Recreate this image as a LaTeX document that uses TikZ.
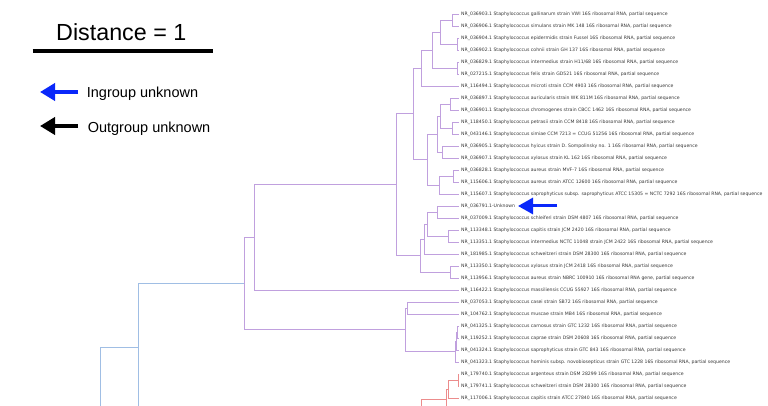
\documentclass[tikz,border=0pt]{standalone}
\usepackage{fontspec}
\setmainfont{Liberation Sans}
\newfontfamily\leaffont{DejaVu Sans}
\usetikzlibrary{arrows.meta}
\definecolor{purp}{RGB}{192,160,222}
\definecolor{bluet}{RGB}{160,190,228}
\definecolor{redt}{RGB}{236,140,140}
\definecolor{arrblue}{RGB}{10,40,250}
\definecolor{txt}{RGB}{55,55,55}
\newcommand\clade[4][purp]{\draw[br,draw=#1] (#3) -- (#2 |- #3) -- (#2 |- #4) -- (#4);}
\begin{document}
\begin{tikzpicture}[x=1pt,y=-1pt,
  leaf/.style={anchor=west, inner xsep=2pt, inner ysep=0pt, text height=3.36pt, text depth=0pt,
    font=\leaffont\fontsize{4.6}{5.4}\selectfont, text=txt},
  br/.style={line width=0.9pt},
  legtext/.style={anchor=base west, inner sep=0pt, font=\fontsize{14.5}{16}\selectfont},
  bigarrow/.style={-{Triangle[length=15pt,width=17pt]}, line width=4pt},
  smallarrow/.style={-{Triangle[length=15pt,width=16pt]}, line width=3pt, arrblue}]
\clip (0,0) rectangle (768,406);
\fill[white] (0,0) rectangle (768,406);

% legend
\node[anchor=base west, inner sep=0pt, font=\fontsize{23.3}{26}\selectfont] (dist) at (56,41) {Distance = 1};
\coordinate (bar1) at (32.5,51.3);
\coordinate (bar2) at (213,51.3);
\draw[line width=4pt] (bar1) -- (bar2);
\coordinate (ina) at (78,92); \coordinate (inb) at (40,92);
\draw[bigarrow, arrblue] (ina) -- (inb);
\node[legtext] (ing) at (86.7,98) {Ingroup unknown};
\coordinate (outa) at (78,126); \coordinate (outb) at (40,126);
\draw[bigarrow, black] (outa) -- (outb);
\node[legtext] (outg) at (87.6,132.5) {Outgroup unknown};

% leaves
\node[leaf] (l1) at (459,14) {NR\_036903.1 Staphylococcus gallinarum strain VWI 16S ribosomal RNA, partial sequence};
\node[leaf] (l2) at (459,26) {NR\_036906.1 Staphylococcus simulans strain MK 148 16S ribosomal RNA, partial sequence};
\node[leaf] (l3) at (459,38) {NR\_036904.1 Staphylococcus epidermidis strain Fussel 16S ribosomal RNA, partial sequence};
\node[leaf] (l4) at (459,50) {NR\_036902.1 Staphylococcus cohnii strain GH 137 16S ribosomal RNA, partial sequence};
\node[leaf] (l5) at (459,62) {NR\_036829.1 Staphylococcus intermedius strain H11/68 16S ribosomal RNA, partial sequence};
\node[leaf] (l6) at (459,74) {NR\_027215.1 Staphylococcus felis strain GD521 16S ribosomal RNA, partial sequence};
\node[leaf] (l7) at (459,86) {NR\_116494.1 Staphylococcus microti strain CCM 4903 16S ribosomal RNA, partial sequence};
\node[leaf] (l8) at (459,98) {NR\_036897.1 Staphylococcus auricularis strain WK 811M 16S ribosomal RNA, partial sequence};
\node[leaf] (l9) at (459,110) {NR\_036901.1 Staphylococcus chromogenes strain CBCC 1462 16S ribosomal RNA, partial sequence};
\node[leaf] (l10) at (459,122) {NR\_118450.1 Staphylococcus petrasii strain CCM 8418 16S ribosomal RNA, partial sequence};
\node[leaf] (l11) at (459,134) {NR\_043146.1 Staphylococcus simiae CCM 7213 = CCUG 51256 16S ribosomal RNA, partial sequence};
\node[leaf] (l12) at (459,146) {NR\_036905.1 Staphylococcus hyicus strain D. Sompolinsky no. 1 16S ribosomal RNA, partial sequence};
\node[leaf] (l13) at (459,158) {NR\_036907.1 Staphylococcus xylosus strain KL 162 16S ribosomal RNA, partial sequence};
\node[leaf] (l14) at (459,170) {NR\_036828.1 Staphylococcus aureus strain MVF-7 16S ribosomal RNA, partial sequence};
\node[leaf] (l15) at (459,182) {NR\_115606.1 Staphylococcus aureus strain ATCC 12600 16S ribosomal RNA, partial sequence};
\node[leaf] (l16) at (459,194) {NR\_115607.1 Staphylococcus saprophyticus subsp. saprophyticus ATCC 15305 = NCTC 7292 16S ribosomal RNA, partial sequence};
\node[leaf] (l17) at (459,206) {NR\_036791.1-Unknown};
\node[leaf] (l18) at (459,218) {NR\_037009.1 Staphylococcus schleiferi strain DSM 4807 16S ribosomal RNA, partial sequence};
\node[leaf] (l19) at (459,230) {NR\_113348.1 Staphylococcus capitis strain JCM 2420 16S ribosomal RNA, partial sequence};
\node[leaf] (l20) at (459,242) {NR\_113351.1 Staphylococcus intermedius NCTC 11048 strain JCM 2422 16S ribosomal RNA, partial sequence};
\node[leaf] (l21) at (459,254) {NR\_181985.1 Staphylococcus schweitzeri strain DSM 28300 16S ribosomal RNA, partial sequence};
\node[leaf] (l22) at (459,266) {NR\_113350.1 Staphylococcus xylosus strain JCM 2418 16S ribosomal RNA, partial sequence};
\node[leaf] (l23) at (459,278) {NR\_113956.1 Staphylococcus aureus strain NBRC 100910 16S ribosomal RNA gene, partial sequence};
\node[leaf] (l24) at (459,290) {NR\_116422.1 Staphylococcus massiliensis CCUG 55927 16S ribosomal RNA, partial sequence};
\node[leaf] (l25) at (459,302) {NR\_037053.1 Staphylococcus casei strain SB72 16S ribosomal RNA, partial sequence};
\node[leaf] (l26) at (459,314) {NR\_104762.1 Staphylococcus muscae strain MB4 16S ribosomal RNA, partial sequence};
\node[leaf] (l27) at (459,326) {NR\_041325.1 Staphylococcus carnosus strain GTC 1232 16S ribosomal RNA, partial sequence};
\node[leaf] (l28) at (459,338) {NR\_119252.1 Staphylococcus caprae strain DSM 20608 16S ribosomal RNA, partial sequence};
\node[leaf] (l29) at (459,350) {NR\_041324.1 Staphylococcus saprophyticus strain GTC 843 16S ribosomal RNA, partial sequence};
\node[leaf] (l30) at (459,362) {NR\_041323.1 Staphylococcus hominis subsp. novobiosepticus strain GTC 1228 16S ribosomal RNA, partial sequence};
\node[leaf] (l31) at (459,374) {NR\_179740.1 Staphylococcus argenteus strain DSM 28299 16S ribosomal RNA, partial sequence};
\node[leaf] (l32) at (459,386) {NR\_179741.1 Staphylococcus schweitzeri strain DSM 28300 16S ribosomal RNA, partial sequence};
\node[leaf] (l33) at (459,398) {NR\_117006.1 Staphylococcus capitis strain ATCC 27840 16S ribosomal RNA, partial sequence};

% internal nodes
\coordinate (a12) at (452,20);
\coordinate (a34) at (457,44);
\coordinate (a1234) at (440,32);
\coordinate (a56) at (457,68);
\coordinate (a1to6) at (432,50);
\coordinate (a1to7) at (421,68);
\coordinate (a89) at (450,104);
\coordinate (a1011) at (452,128);
\coordinate (a8to11) at (440,116);
\coordinate (a1213) at (442,152);
\coordinate (a8to13) at (437.5,134);
\coordinate (a1415) at (453,176);
\coordinate (a14to16) at (439,185);
\coordinate (a8to16) at (427,159.5);
\coordinate (nA) at (413,113.75);
\coordinate (a1718) at (437,212);
\coordinate (a1920) at (448,236);
\coordinate (a17to20) at (427,224);
\coordinate (a17to21) at (424,239);
\coordinate (a2223) at (450,272);
\coordinate (nE) at (420,255.5);
\coordinate (nP1) at (396,184.6);
\coordinate (nP2) at (254,237.3);
\coordinate (a2526) at (407,308);
\coordinate (a2728) at (457.5,332);
\coordinate (a27to29) at (456,341);
\coordinate (a27to30) at (455,351.5);
\coordinate (nG) at (405.5,329.75);
\coordinate (nF) at (244,283.5);
\coordinate (a3132) at (458.3,380);
\coordinate (a31to33) at (448,389);
\coordinate (nR1) at (446,399.5);
\coordinate (r1x) at (470,409.5);
\coordinate (nR2) at (421,410.5);
\coordinate (r2x) at (470,421.5);
\coordinate (nB1) at (138,347);
\coordinate (nB0) at (100,420);
\coordinate (b0x) at (60,493);

% clades
\clade{a12}{l1.west}{l2.west}
\clade{a34}{l3.west}{l4.west}
\clade{a1234}{a12}{a34}
\clade{a56}{l5.west}{l6.west}
\clade{a1to6}{a1234}{a56}
\clade{a1to7}{a1to6}{l7.west}
\clade{a89}{l8.west}{l9.west}
\clade{a1011}{l10.west}{l11.west}
\clade{a8to11}{a89}{a1011}
\clade{a1213}{l12.west}{l13.west}
\clade{a8to13}{a8to11}{a1213}
\clade{a1415}{l14.west}{l15.west}
\clade{a14to16}{a1415}{l16.west}
\clade{a8to16}{a8to13}{a14to16}
\clade{nA}{a1to7}{a8to16}
\clade{a1718}{l17.west}{l18.west}
\clade{a1920}{l19.west}{l20.west}
\clade{a17to20}{a1718}{a1920}
\clade{a17to21}{a17to20}{l21.west}
\clade{a2223}{l22.west}{l23.west}
\clade{nE}{a17to21}{a2223}
\clade{nP1}{nA}{nE}
\clade{nP2}{nP1}{l24.west}
\clade{a2526}{l25.west}{l26.west}
\clade{a2728}{l27.west}{l28.west}
\clade{a27to29}{a2728}{l29.west}
\clade{a27to30}{a27to29}{l30.west}
\clade{nG}{a2526}{a27to30}
\clade{nF}{nP2}{nG}
\clade[redt]{a3132}{l31.west}{l32.west}
\clade[redt]{a31to33}{a3132}{l33.west}
\clade[redt]{nR1}{a31to33}{r1x}
\clade[redt]{nR2}{nR1}{r2x}
\clade[bluet]{nB1}{nF}{nR2}
\clade[bluet]{nB0}{nB1}{b0x}

% unknown marker
\coordinate (ua) at (557,206); \coordinate (ub) at (518,206);
\draw[smallarrow] (ua) -- (ub);
\end{tikzpicture}
\end{document}
